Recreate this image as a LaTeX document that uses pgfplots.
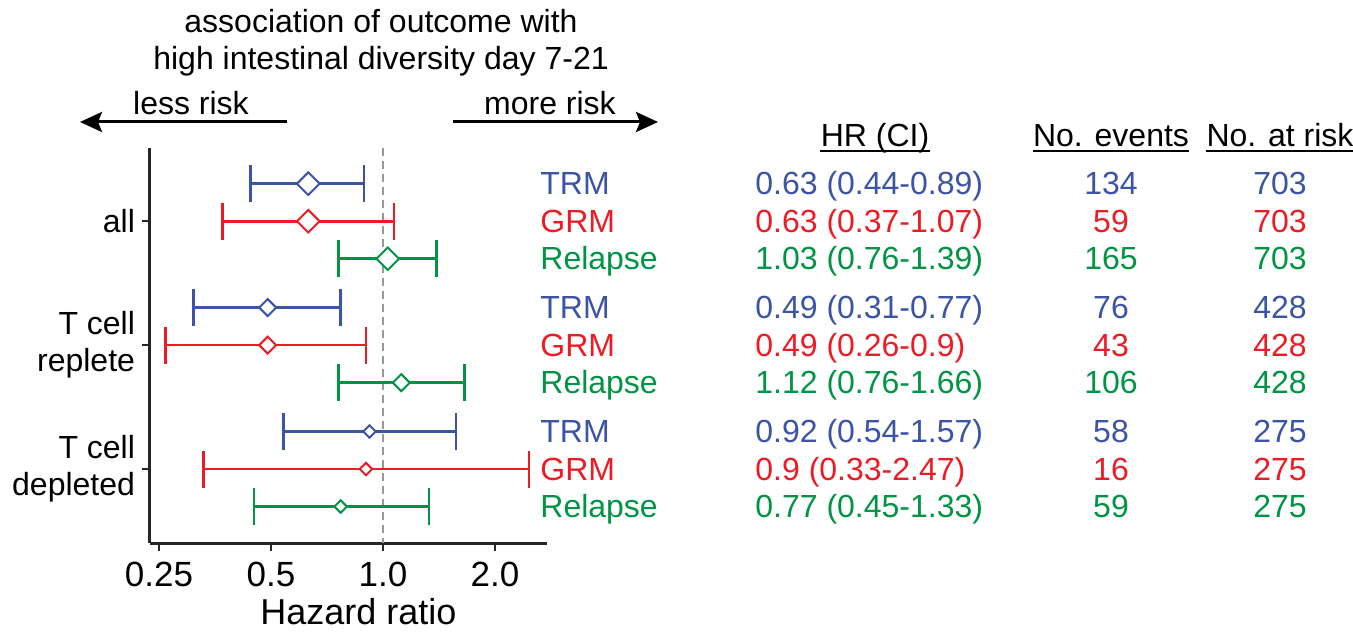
\documentclass[border=0pt]{standalone}
\usepackage{fontspec}
\setmainfont{Liberation Sans}
\usepackage{pgfplots}
\pgfplotsset{compat=1.18}
\usetikzlibrary{arrows.meta}

\definecolor{cTRM}{HTML}{3B54A4}
\definecolor{cGRM}{HTML}{ED1C24}
\definecolor{cRel}{HTML}{009444}

\newcommand\fs{\fontsize{16pt}{18.5pt}\selectfont}

\pgfplotsset{
  hrbar/.style={line width=1.35pt, mark=|, mark size=9.25pt},
  hrpt/.style={only marks, mark=square*, mark size=#1,
    mark options={rotate=45, fill=white, line width=1pt}},
}

\begin{document}
\begin{tikzpicture}[every node/.append style={font=\fs}]
\path[use as bounding box] (0,0) rectangle (676.5pt,316pt);
\begin{axis}[
  at={(75pt,44.5pt)}, anchor=south west,
  width=198.5pt, height=197.5pt, scale only axis,
  xmode=log, log basis x=2,
  xmin=0.2365, xmax=2.76,
  ymin=-10.57, ymax=-0.05,
  axis x line*=bottom, axis y line*=left,
  axis line style={line width=1.5pt, black!85},
  xtick={0.25,0.5,1,2}, xticklabels={0.25,0.5,1.0,2.0},
  ytick={-8.6,-5.3,-2}, yticklabels={{T cell\\depleted},{T cell\\replete},all},
  minor tick num=0,
  tick align=outside, major tick length=4pt,
  tick style={line width=1.2pt, black!85},
  xticklabel style={font=\fontsize{17.5pt}{21pt}\selectfont, yshift=-2pt},
  yticklabel style={align=right, font=\fs},
  xlabel={Hazard ratio},
  xlabel style={font=\fontsize{18pt}{21pt}\selectfont, yshift=-1pt, xshift=5pt, inner sep=1pt},
  clip=false,
]
% reference line at HR = 1
\addplot[gray!80, line width=1pt, dash pattern=on 4pt off 2.5pt] coordinates {(1,-0.05) (1,-10.57)};

% all
\addplot[cTRM, hrbar] coordinates {(0.44,-1) (0.89,-1)};
\addplot[cTRM, hrpt=4pt] coordinates {(0.63,-1)};
\addplot[cGRM, hrbar] coordinates {(0.37,-2) (1.07,-2)};
\addplot[cGRM, hrpt=4pt] coordinates {(0.63,-2)};
\addplot[cRel, hrbar] coordinates {(0.76,-3) (1.39,-3)};
\addplot[cRel, hrpt=4pt] coordinates {(1.03,-3)};

% T cell replete
\addplot[cTRM, hrbar] coordinates {(0.31,-4.3) (0.77,-4.3)};
\addplot[cTRM, hrpt=3pt] coordinates {(0.49,-4.3)};
\addplot[cGRM, hrbar] coordinates {(0.26,-5.3) (0.9,-5.3)};
\addplot[cGRM, hrpt=3pt] coordinates {(0.49,-5.3)};
\addplot[cRel, hrbar] coordinates {(0.76,-6.3) (1.66,-6.3)};
\addplot[cRel, hrpt=3pt] coordinates {(1.12,-6.3)};

% T cell depleted
\addplot[cTRM, hrbar] coordinates {(0.54,-7.6) (1.57,-7.6)};
\addplot[cTRM, hrpt=2.2pt] coordinates {(0.92,-7.6)};
\addplot[cGRM, hrbar] coordinates {(0.33,-8.6) (2.47,-8.6)};
\addplot[cGRM, hrpt=2.2pt] coordinates {(0.9,-8.6)};
\addplot[cRel, hrbar] coordinates {(0.45,-9.6) (1.33,-9.6)};
\addplot[cRel, hrpt=2.2pt] coordinates {(0.77,-9.6)};

\coordinate (r1) at (axis cs:1,-1);
\coordinate (r2) at (axis cs:1,-2);
\coordinate (r3) at (axis cs:1,-3);
\coordinate (r4) at (axis cs:1,-4.3);
\coordinate (r5) at (axis cs:1,-5.3);
\coordinate (r6) at (axis cs:1,-6.3);
\coordinate (r7) at (axis cs:1,-7.6);
\coordinate (r8) at (axis cs:1,-8.6);
\coordinate (r9) at (axis cs:1,-9.6);
\end{axis}

% heading and direction arrows
\node[anchor=base] at (190.5pt,299.5pt) {association of outcome with};
\node[anchor=base] at (190.5pt,281pt) {high intestinal diversity day 7-21};
\node[anchor=base] at (95.5pt,258.5pt) {less risk};
\node[anchor=base] at (275pt,258.5pt) {more risk};
\draw[line width=1.5pt, -{Stealth[length=11pt,width=10pt,inset=2pt]}] (143.5pt,255pt) -- (40pt,255pt);
\draw[line width=1.5pt, -{Stealth[length=11pt,width=10pt,inset=2pt]}] (226.5pt,255pt) -- (329pt,255pt);

% column headers
\node[anchor=base, inner sep=0] (h1) at (437.5pt,242.5pt) {HR (CI)};
\node[anchor=base, inner sep=0] (h2) at (555.5pt,242.5pt) {No. events};
\node[anchor=base, inner sep=0] (h3) at (640pt,242.5pt) {No. at risk};
\foreach \h in {h1,h2,h3}
  \draw[line width=1pt] ([yshift=-2pt]\h.base west) -- ([yshift=-2pt]\h.base east);

% table columns
\coordinate (cLab) at (270pt,0);
\coordinate (cHR) at (377.5pt,0);
\coordinate (cEv) at (555.5pt,0);
\coordinate (cN) at (640pt,0);
\foreach \r/\c/\lab/\hr/\ev/\n in {
  1/cTRM/TRM/0.63 (0.44-0.89)/134/703,
  2/cGRM/GRM/0.63 (0.37-1.07)/59/703,
  3/cRel/Relapse/1.03 (0.76-1.39)/165/703,
  4/cTRM/TRM/0.49 (0.31-0.77)/76/428,
  5/cGRM/GRM/0.49 (0.26-0.9)/43/428,
  6/cRel/Relapse/1.12 (0.76-1.66)/106/428,
  7/cTRM/TRM/0.92 (0.54-1.57)/58/275,
  8/cGRM/GRM/0.9 (0.33-2.47)/16/275,
  9/cRel/Relapse/0.77 (0.45-1.33)/59/275}{
  \node[anchor=base west, inner sep=0, text=\c, yshift=-5.5pt] at (cLab |- r\r) {\lab};
  \node[anchor=base west, inner sep=0, text=\c, yshift=-5.5pt] at (cHR |- r\r) {\hr};
  \node[anchor=base, inner sep=0, text=\c, yshift=-5.5pt] at (cEv |- r\r) {\ev};
  \node[anchor=base, inner sep=0, text=\c, yshift=-5.5pt] at (cN |- r\r) {\n};
}
\end{tikzpicture}
\end{document}
